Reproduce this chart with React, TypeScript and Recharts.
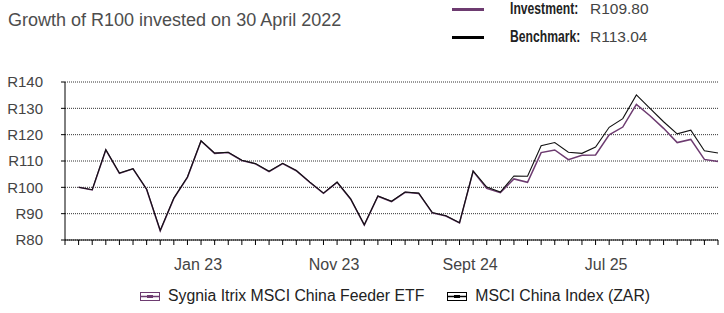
import React from 'react';
import { LineChart, Line, XAxis, YAxis, CartesianGrid } from 'recharts';

// monthly points, first category (Mar 22) is the axis origin with no value
const months = [
  'Mar 22', 'Apr 22', 'May 22', 'Jun 22', 'Jul 22', 'Aug 22', 'Sep 22', 'Oct 22', 'Nov 22', 'Dec 22',
  'Jan 23', 'Feb 23', 'Mar 23', 'Apr 23', 'May 23', 'Jun 23', 'Jul 23', 'Aug 23', 'Sep 23', 'Oct 23',
  'Nov 23', 'Dec 23', 'Jan 24', 'Feb 24', 'Mar 24', 'Apr 24', 'May 24', 'Jun 24', 'Jul 24', 'Aug 24',
  'Sept 24', 'Oct 24', 'Nov 24', 'Dec 24', 'Jan 25', 'Feb 25', 'Mar 25', 'Apr 25', 'May 25', 'Jun 25',
  'Jul 25', 'Aug 25', 'Sep 25', 'Oct 25', 'Nov 25', 'Dec 25', 'Jan 26', 'Feb 26', 'Mar 26',
];

const investment = [
  null, 100, 99, 114.2, 105.3, 107, 99.2, 83.5, 95.8, 103.8,
  117.6, 112.9, 113.2, 110.2, 108.9, 106, 109, 106.3, 101.9, 97.7,
  101.9, 95.5, 85.7, 96.6, 94.6, 98.1, 97.7, 90.3, 89.1, 86.5,
  106.1, 99.6, 98, 103.2, 101.9, 113.2, 114.2, 110.5, 112.2, 112.3,
  119.9, 122.9, 131.5, 127.2, 122.4, 117, 118.2, 110.6, 109.8,
];

const benchmark = [
  null, 100, 99.1, 114.3, 105.4, 107.1, 99.3, 83.6, 95.9, 103.9,
  117.7, 113, 113.3, 110.3, 109, 106.1, 109.1, 106.4, 102, 97.8,
  102, 95.6, 85.8, 96.7, 94.7, 98.2, 97.8, 90.4, 89.2, 86.6,
  106.2, 100.1, 98.2, 104.3, 104.2, 115.8, 117, 113.3, 112.9, 115.3,
  122.8, 126.1, 135.1, 130, 124.9, 120.3, 121.7, 113.9, 113.04,
];

const tickLabels = ['Jan 23', 'Nov 23', 'Sept 24', 'Jul 25'];
const yTicks = [80, 90, 100, 110, 120, 130, 140];

const PURPLE = '#6d3b70';
const FONT = '"Liberation Sans", Arial, sans-serif';

const data = months.map((m, i) => ({ month: m, investment: investment[i], benchmark: benchmark[i] }));

const LegendIcon = ({ color }: { color: string }) => (
  <svg width={20} height={9} style={{ marginRight: 8 }}>
    <rect x={0.5} y={0.5} width={19} height={8} fill="none" stroke={color} strokeWidth={1} />
    <line x1={0.5} y1={4.5} x2={19.5} y2={4.5} stroke={color} strokeWidth={1.5} />
    <rect x={7} y={3} width={6} height={3} fill={color} />
  </svg>
);

const boldLabel: React.CSSProperties = {
  fontWeight: 'bold',
  fontSize: 16,
  color: '#222',
  display: 'inline-block',
  transform: 'scaleX(0.76)',
  transformOrigin: 'left center',
  whiteSpace: 'nowrap',
};

export default function App() {
  return (
    <div style={{ position: 'absolute', left: 0, top: 0, width: 724, height: 313, background: '#fff', fontFamily: FONT, color: '#333' }}>
      <div style={{ position: 'absolute', left: 8, top: 9, fontSize: 18, color: '#4d4d4d', lineHeight: '22px' }}>
        Growth of R100 invested on 30 April 2022
      </div>

      <div style={{ position: 'absolute', left: 452, top: -3, fontSize: 15.5 }}>
        <div style={{ display: 'flex', alignItems: 'center', height: 24 }}>
          <div style={{ width: 32, height: 3, background: PURPLE, marginRight: 26 }} />
          <div style={{ width: 80 }}><span style={boldLabel}>Investment:</span></div>
          <span style={{ color: '#444' }}>R109.80</span>
        </div>
        <div style={{ display: 'flex', alignItems: 'center', height: 32 }}>
          <div style={{ width: 32, height: 3, background: '#000', marginRight: 26 }} />
          <div style={{ width: 80 }}><span style={boldLabel}>Benchmark:</span></div>
          <span style={{ color: '#444' }}>R113.04</span>
        </div>
      </div>

      <div style={{ position: 'absolute', left: 0, top: 0 }}>
        <LineChart width={724} height={313} data={data} margin={{ top: 82, right: 6, bottom: 43, left: 0 }}>
          <CartesianGrid vertical={false} stroke="#333" strokeDasharray="1 1" />
          <XAxis
            dataKey="month"
            interval={0}
            tickSize={5}
            tickMargin={14}
            height={30}
            axisLine={{ stroke: '#000' }}
            tickLine={{ stroke: '#000' }}
            tickFormatter={(v: string) => (tickLabels.includes(v) ? v : '')}
            tick={{ fontSize: 16, fill: '#444', fontFamily: FONT, dx: -3 }}
          />
          <YAxis
            domain={[80, 140]}
            ticks={yTicks}
            width={65}
            tickSize={4}
            tickMargin={18}
            axisLine={{ stroke: '#000' }}
            tickLine={{ stroke: '#000' }}
            tickFormatter={(v: number) => `R${v}`}
            tick={{ fontSize: 15, fill: '#444', fontFamily: FONT }}
          />
          <Line type="linear" dataKey="investment" stroke={PURPLE} strokeWidth={1.5} dot={false} isAnimationActive={false} />
          <Line type="linear" dataKey="benchmark" stroke="#111" strokeWidth={1.1} dot={false} isAnimationActive={false} />
        </LineChart>
      </div>

      <div style={{ position: 'absolute', left: 140, top: 287, display: 'flex', alignItems: 'center', fontSize: 15.8, color: '#222' }}>
        <LegendIcon color={PURPLE} />
        <span style={{ marginRight: 23 }}>Sygnia Itrix MSCI China Feeder ETF</span>
        <LegendIcon color="#000" />
        <span>MSCI China Index (ZAR)</span>
      </div>
    </div>
  );
}
